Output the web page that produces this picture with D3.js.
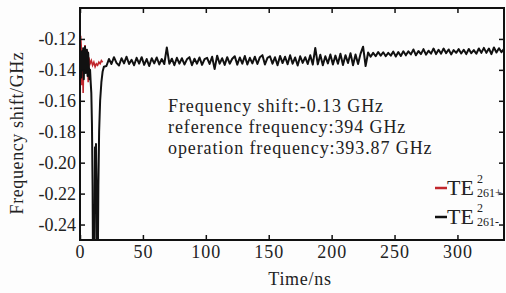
<!DOCTYPE html>
<html>
<head>
<meta charset="utf-8">
<script src="https://cdn.jsdelivr.net/npm/d3@7"></script>
<style>
  body { margin: 0; background: #fdfdfd; }
  text { font-family: "Liberation Serif", "Times New Roman", serif; fill: #222; }
</style>
</head>
<body>
<div id="chart"></div>
<script>
// TE2 261+ (red), only the start-up part
var red_t = [0, 0.5, 1, 1.5, 2, 2.5, 3, 4, 5, 6, 6.5, 7, 8, 9, 10, 11, 12, 13, 14, 15, 16, 17, 18];
var red_v = [-0.130, -0.118, -0.125, -0.150, -0.128, -0.155, -0.130, -0.124, -0.135, -0.128, -0.148,
             -0.132, -0.136, -0.134, -0.137, -0.135, -0.138, -0.136, -0.137, -0.135, -0.136, -0.134, -0.135];

// TE2 261- (black), start-up with the deep dip
var black_t0 = [0, 0.5, 1, 1.5, 2, 2.5, 3, 3.5, 4, 4.5, 5, 5.5, 6, 6.5, 7, 7.5, 8, 8.5, 9, 9.5, 10,
                10.3, 11.5, 11.9, 12.3, 12.7, 13.1, 13.5, 14.2, 14.6, 15.2, 16, 17, 18, 19];
var black_v0 = [-0.138, -0.132, -0.145, -0.128, -0.140, -0.126, -0.146, -0.130, -0.125, -0.142, -0.130,
                -0.127, -0.144, -0.129, -0.137, -0.146, -0.140, -0.148, -0.155, -0.175, -0.215,
                -0.260, -0.260, -0.190, -0.220, -0.188, -0.215, -0.260, -0.260, -0.215, -0.180,
                -0.160, -0.148, -0.141, -0.138];

// black, steady part every 2 ns from 21 ns
var black_t1 = d3.range(21, 338, 2);
var black_v1 = [
  -0.1375,-0.1330,-0.1362,-0.1318,-0.1355,-0.1372,-0.1325,-0.1358,-0.1315,-0.1362,
  -0.1335,-0.1370,-0.1322,-0.1360,-0.1318,-0.1368,-0.1330,-0.1375,-0.1325,-0.1358,
  -0.1320,-0.1365,-0.1330,-0.1362,-0.1255,-0.1360,-0.1328,-0.1370,-0.1322,-0.1360,
  -0.1325,-0.1365,-0.1332,-0.1318,-0.1370,-0.1328,-0.1360,-0.1320,-0.1368,-0.1330,
  -0.1322,-0.1362,-0.1315,-0.1395,-0.1308,-0.1360,-0.1325,-0.1368,-0.1318,-0.1360,
  -0.1328,-0.1312,-0.1366,-0.1320,-0.1360,-0.1310,-0.1365,-0.1322,-0.1358,-0.1315,
  -0.1362,-0.1318,-0.1305,-0.1365,-0.1322,-0.1312,-0.1360,-0.1318,-0.1370,-0.1310,
  -0.1356,-0.1315,-0.1364,-0.1305,-0.1360,-0.1320,-0.1372,-0.1312,-0.1355,-0.1318,
  -0.1362,-0.1306,-0.1366,-0.1258,-0.1364,-0.1302,-0.1370,-0.1312,-0.1358,-0.1300,
  -0.1365,-0.1308,-0.1360,-0.1296,-0.1368,-0.1305,-0.1356,-0.1292,-0.1370,-0.1300,
  -0.1362,-0.1295,-0.1250,-0.1375,-0.1288,-0.1315,-0.1290,-0.1312,-0.1285,-0.1308,
  -0.1286,-0.1312,-0.1290,-0.1308,-0.1282,-0.1314,-0.1285,-0.1310,-0.1280,-0.1306,
  -0.1280,-0.1300,-0.1268,-0.1306,-0.1278,-0.1298,-0.1266,-0.1302,-0.1276,-0.1295,
  -0.1262,-0.1298,-0.1270,-0.1295,-0.1262,-0.1292,-0.1268,-0.1300,-0.1272,-0.1290,
  -0.1266,-0.1294,-0.1270,-0.1298,-0.1265,-0.1292,-0.1272,-0.1296,-0.1262,-0.1290,
  -0.1258,-0.1290,-0.1262,-0.1298,-0.1255,-0.1288,-0.1260,-0.1285,-0.1265
];

var x_ticks = [0, 50, 100, 150, 200, 250, 300];
var y_ticks = [-0.12, -0.14, -0.16, -0.18, -0.20, -0.22, -0.24];
var notes = ["Frequency shift:-0.13 GHz", "reference frequency:394 GHz", "operation frequency:393.87 GHz"];
var legend_names = [{base: "TE", sup: "2", sub: "261+", color: "#c1272d"},
                    {base: "TE", sup: "2", sub: "261-", color: "#111"}];

var W = 506, H = 293,
    m = {left: 80, right: 2, top: 8, bottom: 53},
    pw = W - m.left - m.right,
    ph = H - m.top - m.bottom;

var x = d3.scaleLinear().domain([0, 337]).range([0, pw]);
var y = d3.scaleLinear().domain([-0.25, -0.10]).range([ph, 0]);

var svg = d3.select("#chart").append("svg")
    .attr("width", W)
    .attr("height", H);

svg.append("defs").append("clipPath").attr("id", "clip")
  .append("rect").attr("width", pw).attr("height", ph);

var g = svg.append("g").attr("transform", "translate(" + m.left + "," + m.top + ")");

var line = d3.line()
    .x(function(d) { return x(d[0]); })
    .y(function(d) { return y(d[1]); });

var red = red_t.map(function(t, i) { return [t, red_v[i]]; });
var black = black_t0.map(function(t, i) { return [t, black_v0[i]]; })
    .concat(black_t1.map(function(t, i) { return [t, black_v1[i]]; }));

var plot = g.append("g").attr("clip-path", "url(#clip)");
plot.append("path")
    .attr("d", line(red))
    .style("fill", "none")
    .style("stroke", "#c1272d")
    .style("stroke-width", 1.6);
plot.append("path")
    .attr("d", line(black))
    .style("fill", "none")
    .style("stroke", "#111")
    .style("stroke-width", 2)
    .style("stroke-linejoin", "round");

// axes, ticks pointing inwards on all four sides
function style_axis(sel) {
  sel.select(".domain").remove();
  sel.selectAll(".tick line").style("stroke", "#111").style("stroke-width", 1.5);
  sel.selectAll("text").style("font-size", "18px").style("font-family", "Liberation Serif, serif").style("fill", "#222");
}

g.append("g").attr("transform", "translate(0," + ph + ")")
  .call(d3.axisBottom(x).tickValues(x_ticks).tickSize(-5).tickPadding(5))
  .call(style_axis)
  .selectAll("text").style("letter-spacing", "1px");
g.append("g")
  .call(d3.axisTop(x).tickValues(x_ticks).tickSize(-5).tickFormat(""))
  .call(style_axis);
g.append("g")
  .call(d3.axisLeft(y).tickValues(y_ticks).tickSize(-5).tickPadding(4)
        .tickFormat(function(d) { return d3.format(".2f")(d).replace("\u2212", "-"); }))
  .call(style_axis);
g.append("g").attr("transform", "translate(" + pw + ",0)")
  .call(d3.axisRight(y).tickValues(y_ticks).tickSize(-5).tickFormat(""))
  .call(style_axis);

g.append("rect")
    .attr("width", pw)
    .attr("height", ph)
    .style("fill", "none")
    .style("stroke", "#111")
    .style("stroke-width", 2);

// axis titles
svg.append("text")
    .attr("x", m.left + pw / 2 + 8)
    .attr("y", 285)
    .attr("text-anchor", "middle")
    .style("font-size", "18px")
    .style("letter-spacing", "0.7px")
    .text("Time/ns");

svg.append("text")
    .attr("transform", "translate(23," + (m.top + ph / 2 + 9) + ") rotate(-90)")
    .attr("text-anchor", "middle")
    .style("font-size", "18px")
    .style("letter-spacing", "0.6px")
    .text("Frequency shift/GHz");

// annotation
svg.selectAll(".note")
  .data(notes)
  .enter()
  .append("text")
    .attr("class", "note")
    .attr("x", 168)
    .attr("y", function(d, i) { return 112 + i * 21; })
    .style("font-size", "18px")
    .style("letter-spacing", "0.9px")
    .text(function(d) { return d; });

// legend
var leg = svg.selectAll(".leg")
  .data(legend_names)
  .enter()
  .append("g")
    .attr("class", "leg")
    .attr("transform", function(d, i) { return "translate(435," + (188 + i * 29) + ")"; });

leg.append("line")
    .attr("x1", 0).attr("x2", 12)
    .style("stroke", function(d) { return d.color; })
    .style("stroke-width", 2.5);

leg.append("text")
    .attr("x", 12)
    .attr("y", 7)
    .style("font-size", "22px")
    .text(function(d) { return d.base; });
leg.append("text")
    .attr("x", 42)
    .attr("y", -5)
    .style("font-size", "12px")
    .text(function(d) { return d.sup; });
leg.append("text")
    .attr("x", 42)
    .attr("y", 9)
    .style("font-size", "12px")
    .text(function(d) { return d.sub; });
</script>
</body>
</html>
